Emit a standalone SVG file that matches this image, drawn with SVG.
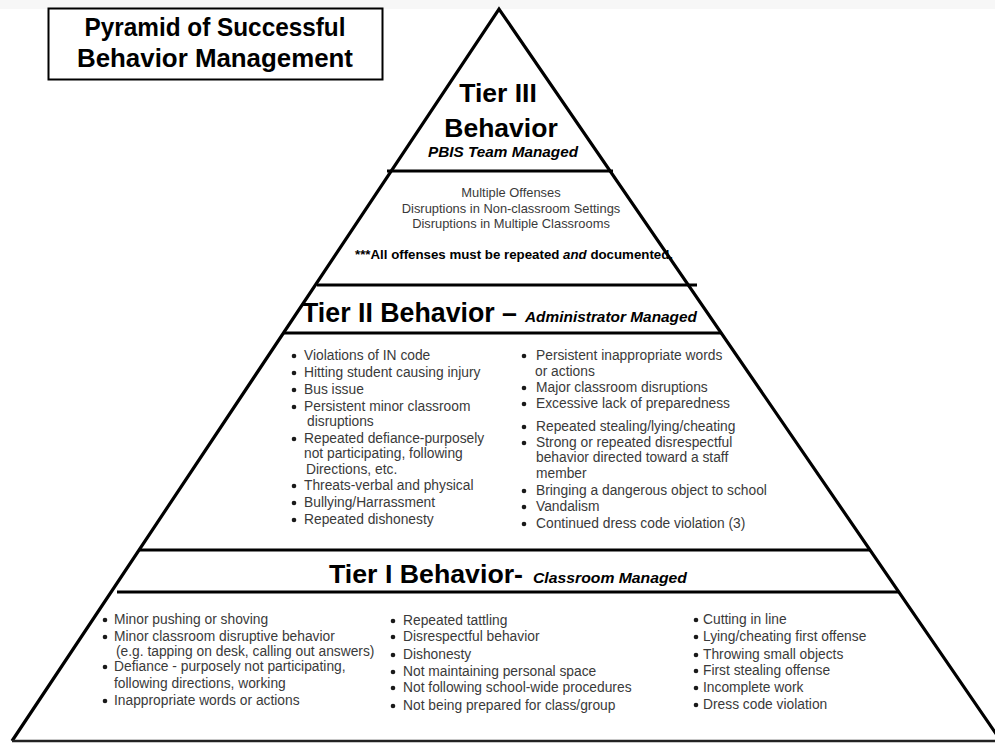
<svg xmlns="http://www.w3.org/2000/svg" width="995" height="744" viewBox="0 0 995 744">
<style>
.h{font-family:"Liberation Sans",Arial,sans-serif;font-weight:bold;fill:#000}
.hi{font-family:"Liberation Sans",Arial,sans-serif;font-weight:bold;font-style:italic;fill:#000}
.t{font-family:"Liberation Sans",Arial,sans-serif;font-size:13.8px;fill:#3a3a3a}
.t3{font-family:"Liberation Sans",Arial,sans-serif;font-size:12.9px;fill:#3a3a3a}
.ln{stroke:#000;stroke-width:3.2;fill:none;stroke-linecap:butt}
.b{fill:#1a1a1a}
</style>
<defs>
<circle id="bul" r="2.3" class="b"/>
</defs>
<rect x="0" y="0" width="995" height="744" fill="#fff"/>
<rect x="0" y="0" width="995" height="9" fill="#f7f7f7"/>

<g id="title">
<rect x="48.5" y="8.5" width="334" height="71" fill="#fff" stroke="#000" stroke-width="2"/>
<text class="h" x="215" y="36" font-size="25" text-anchor="middle" textLength="261" lengthAdjust="spacingAndGlyphs">Pyramid of Successful</text>
<text class="h" x="215" y="67" font-size="25" text-anchor="middle" textLength="276" lengthAdjust="spacingAndGlyphs">Behavior Management</text>
</g>

<g id="pyramid">
<path class="ln" d="M12,741 L499,9 L1001,741"/>
<line class="ln" x1="387" y1="171" x2="613" y2="171"/>
<line class="ln" x1="317" y1="285" x2="697" y2="285"/>
<line class="ln" x1="284" y1="333" x2="721" y2="333"/>
<line class="ln" x1="139" y1="550" x2="870" y2="550"/>
<line class="ln" x1="117" y1="592" x2="899" y2="592"/>
<line stroke="#222" stroke-width="2.5" x1="12" y1="741" x2="995" y2="741"/>
</g>

<g id="tier3">
<text class="h" x="498" y="102" font-size="26.5" text-anchor="middle">Tier III</text>
<text class="h" x="501" y="137" font-size="26.5" text-anchor="middle">Behavior</text>
<text class="hi" x="503" y="157" font-size="15" text-anchor="middle" textLength="150" lengthAdjust="spacingAndGlyphs">PBIS Team Managed</text>
<text class="t3" x="511" y="197" text-anchor="middle">Multiple Offenses</text>
<text class="t3" x="511" y="213" text-anchor="middle">Disruptions in Non-classroom Settings</text>
<text class="t3" x="511" y="228" text-anchor="middle">Disruptions in Multiple Classrooms</text>
<text class="h" x="514" y="259" font-size="12.5" text-anchor="middle" textLength="318" lengthAdjust="spacingAndGlyphs">***All offenses must be repeated <tspan font-style="italic">and</tspan> documented.</text>
</g>

<g id="tier2">
<text class="h" x="302" y="322" font-size="28" textLength="215" lengthAdjust="spacingAndGlyphs">Tier II Behavior –</text>
<text class="hi" x="525" y="322" font-size="15" textLength="172" lengthAdjust="spacingAndGlyphs">Administrator Managed</text>
<g id="tier2-left">
<use href="#bul" x="294" y="356"/><text class="t" x="304" y="360">Violations of IN code</text>
<use href="#bul" x="294" y="373"/><text class="t" x="304" y="377">Hitting student causing injury</text>
<use href="#bul" x="294" y="390"/><text class="t" x="304" y="394">Bus issue</text>
<use href="#bul" x="294" y="407"/><text class="t" x="304" y="411">Persistent minor classroom</text>
<text class="t" x="307" y="426">disruptions</text>
<use href="#bul" x="294" y="439"/><text class="t" x="304" y="443">Repeated defiance-purposely</text>
<text class="t" x="304" y="458">not participating, following</text>
<text class="t" x="306" y="474">Directions, etc.</text>
<use href="#bul" x="294" y="486"/><text class="t" x="304" y="490">Threats-verbal and physical</text>
<use href="#bul" x="294" y="503"/><text class="t" x="304" y="507">Bullying/Harrassment</text>
<use href="#bul" x="294" y="520"/><text class="t" x="304" y="524">Repeated dishonesty</text>
</g>
<g id="tier2-right">
<use href="#bul" x="524" y="356"/><text class="t" x="536" y="360">Persistent inappropriate words</text>
<text class="t" x="535" y="376">or actions</text>
<use href="#bul" x="524" y="388"/><text class="t" x="536" y="392">Major classroom disruptions</text>
<use href="#bul" x="524" y="404"/><text class="t" x="536" y="408">Excessive lack of preparedness</text>
<use href="#bul" x="524" y="427"/><text class="t" x="536" y="431">Repeated stealing/lying/cheating</text>
<use href="#bul" x="524" y="443"/><text class="t" x="536" y="447">Strong or repeated disrespectful</text>
<text class="t" x="536" y="462">behavior directed toward a staff</text>
<text class="t" x="536" y="478">member</text>
<use href="#bul" x="524" y="491"/><text class="t" x="536" y="495">Bringing a dangerous object to school</text>
<use href="#bul" x="524" y="507"/><text class="t" x="536" y="511">Vandalism</text>
<use href="#bul" x="524" y="524"/><text class="t" x="536" y="528">Continued dress code violation (3)</text>
</g>
</g>

<g id="tier1">
<text class="h" x="329" y="583" font-size="26.5" textLength="194" lengthAdjust="spacingAndGlyphs">Tier I Behavior-</text>
<text class="hi" x="533" y="583" font-size="15" textLength="154" lengthAdjust="spacingAndGlyphs">Classroom Managed</text>
<g id="tier1-left">
<use href="#bul" x="105" y="620"/><text class="t" x="114" y="624">Minor pushing or shoving</text>
<use href="#bul" x="105" y="637"/><text class="t" x="114" y="641">Minor classroom disruptive behavior</text>
<text class="t" x="116" y="656" font-size="10.4">(e.g. tapping on desk, calling out answers)</text>
<use href="#bul" x="105" y="667"/><text class="t" x="114" y="671">Defiance - purposely not participating,</text>
<text class="t" x="114" y="688">following directions, working</text>
<use href="#bul" x="105" y="701"/><text class="t" x="114" y="705">Inappropriate words or actions</text>
</g>
<g id="tier1-middle">
<use href="#bul" x="393" y="621"/><text class="t" x="403" y="625">Repeated tattling</text>
<use href="#bul" x="393" y="637"/><text class="t" x="403" y="641">Disrespectful behavior</text>
<use href="#bul" x="393" y="655"/><text class="t" x="403" y="659">Dishonesty</text>
<use href="#bul" x="393" y="672"/><text class="t" x="403" y="676">Not maintaining personal space</text>
<use href="#bul" x="393" y="688"/><text class="t" x="403" y="692">Not following school-wide procedures</text>
<use href="#bul" x="393" y="706"/><text class="t" x="403" y="710">Not being prepared for class/group</text>
</g>
<g id="tier1-right">
<use href="#bul" x="696" y="620"/><text class="t" x="703" y="624">Cutting in line</text>
<use href="#bul" x="696" y="637"/><text class="t" x="703" y="641">Lying/cheating first offense</text>
<use href="#bul" x="696" y="655"/><text class="t" x="703" y="659">Throwing small objects</text>
<use href="#bul" x="696" y="671"/><text class="t" x="703" y="675">First stealing offense</text>
<use href="#bul" x="696" y="688"/><text class="t" x="703" y="692">Incomplete work</text>
<use href="#bul" x="696" y="705"/><text class="t" x="703" y="709">Dress code violation</text>
</g>
</g>
</svg>
